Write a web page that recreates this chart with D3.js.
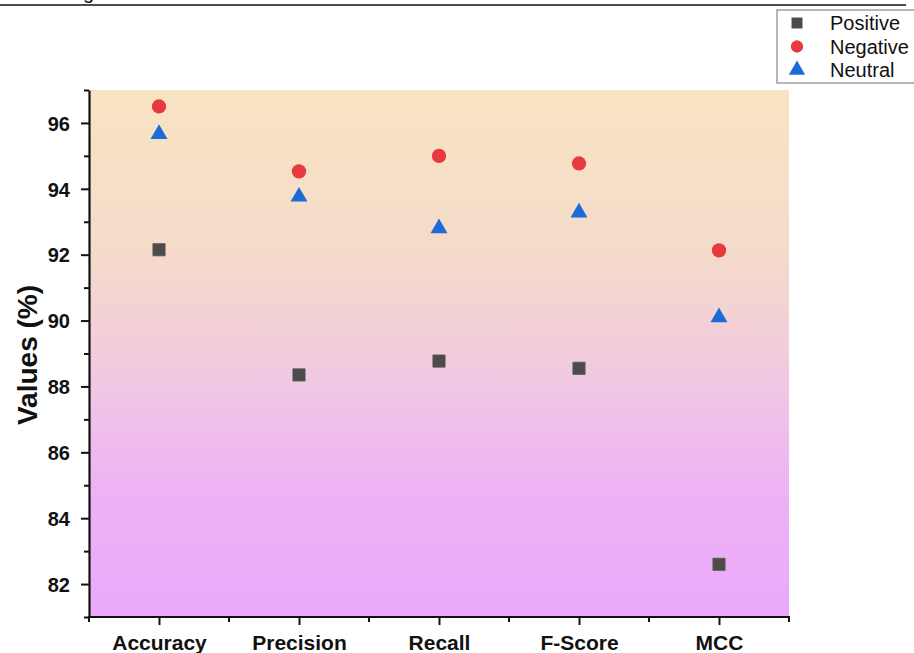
<!DOCTYPE html>
<html>
<head>
<meta charset="utf-8">
<script src="https://cdn.jsdelivr.net/npm/d3@7"></script>
<style>
  html, body { margin: 0; padding: 0; background: #fff; }
  svg { display: block; font-family: "Liberation Sans", Arial, sans-serif; }
</style>
</head>
<body>
<svg id="chart" width="914" height="653"></svg>
<script>
// ---- data ----
const categories = ["Accuracy", "Precision", "Recall", "F-Score", "MCC"];
const positiveValues = [92.15, 88.35, 88.77, 88.55, 82.6];
const negativeValues = [96.5, 94.53, 95.0, 94.77, 92.13];
const neutralValues  = [95.66, 93.76, 92.8, 93.28, 90.1];
const seriesNames = ["Positive", "Negative", "Neutral"];
const yMajorTicks = [82, 84, 86, 88, 90, 92, 94, 96];
const yMinorTicks = [81, 83, 85, 87, 89, 91, 93, 95, 97];
const yLabel = "Values (%)";

(function () {
// ---- layout ----
const svg = d3.select("#chart");
const pl = 89, pr = 789, pt = 90, pb = 617;

// top rule and clipped text remnant (as in the source image)
svg.append("line").attr("x1", 0).attr("x2", 906).attr("y1", 5).attr("y2", 5)
  .attr("stroke", "#111").attr("stroke-width", 1.5);
svg.append("text").attr("x", 83).attr("y", -1).attr("font-size", 20).attr("fill", "#111").text("g");

// gradient background
const defs = svg.append("defs");
const grad = defs.append("linearGradient").attr("id", "bg").attr("x1", 0).attr("y1", 0).attr("x2", 0).attr("y2", 1);
[[0, "#f8e4c3"], [0.3, "#f5dbca"], [0.55, "#f1c8e2"], [0.75, "#edb3f4"], [1, "#eaa9fc"]]
  .forEach(([o, c]) => grad.append("stop").attr("offset", o).attr("stop-color", c));
svg.append("rect").attr("x", pl).attr("y", pt).attr("width", pr - pl).attr("height", pb - pt)
  .attr("fill", "url(#bg)");

// scales
const x = d3.scaleBand().domain(categories).range([pl, pr]).padding(0);
const cx = c => x(c) + x.bandwidth() / 2;
const xp = d3.scalePoint().domain(categories).range([cx(categories[0]), cx(categories[categories.length - 1])]);
const y = d3.scaleLinear().domain([81, 97]).range([pb, pt]);

// y axis
const gy = svg.append("g").attr("transform", `translate(${pl},0)`);
gy.call(d3.axisLeft(y).tickValues(yMajorTicks).tickSize(8).tickSizeOuter(0).tickPadding(11).tickFormat(d3.format("d")));
const gyMinor = svg.append("g").attr("transform", `translate(${pl},0)`);
gyMinor.call(d3.axisLeft(y).tickValues(yMinorTicks).tickSize(5).tickSizeOuter(0).tickFormat(""));
gyMinor.select(".domain").remove();

// x axis
const gx = svg.append("g").attr("transform", `translate(0,${pb})`);
gx.call(d3.axisBottom(xp).tickSize(8).tickSizeOuter(0).tickPadding(10));
gx.select(".domain").remove();
const bandEdges = categories.map(c => x(c)).concat([x(categories[categories.length - 1]) + x.bandwidth()]);
const gxMinor = svg.append("g").attr("transform", `translate(0,${pb})`);
gxMinor.selectAll("line").data(bandEdges).join("line")
  .attr("x1", d => d).attr("x2", d => d).attr("y1", 0).attr("y2", 5)
  .attr("stroke", "#111").attr("stroke-width", 2);
svg.append("line").attr("x1", pl - 1).attr("x2", pr + 1).attr("y1", pb).attr("y2", pb)
  .attr("stroke", "#111").attr("stroke-width", 2.2);

[gy, gx].forEach(g => {
  g.selectAll(".domain").attr("stroke", "#111").attr("stroke-width", 2.2);
  g.selectAll(".tick line").attr("stroke", "#111").attr("stroke-width", 2);
  g.selectAll(".tick text").attr("fill", "#111").attr("font-size", 20).attr("font-weight", "bold")
    .attr("font-family", "'Liberation Sans', Arial, sans-serif");
});
gx.selectAll(".tick text").attr("font-size", 21);
gyMinor.selectAll(".tick line").attr("stroke", "#111").attr("stroke-width", 2);
gy.selectAll(".tick text").attr("dy", "0.36em");

// y label
svg.append("text")
  .attr("transform", `translate(37,355) rotate(-90)`)
  .attr("text-anchor", "middle")
  .attr("font-size", 28).attr("font-weight", "bold").attr("fill", "#111")
  .text(yLabel);

// markers
const colors = { Positive: "#4b4b4b", Negative: "#e8393e", Neutral: "#1b6cd8" };
const sym = {
  Positive: d3.symbol().type(d3.symbolSquare).size(150),
  Negative: d3.symbol().type(d3.symbolCircle).size(160),
  Neutral: d3.symbol().type(d3.symbolTriangle).size(125)
};
const seriesData = { Positive: positiveValues, Negative: negativeValues, Neutral: neutralValues };
seriesNames.forEach(name => {
  svg.append("g").selectAll("path").data(categories.map((c, i) => ({ c, v: seriesData[name][i] })))
    .join("path")
    .attr("d", sym[name]())
    .attr("transform", d => `translate(${cx(d.c)},${y(d.v)})`)
    .attr("fill", colors[name])
    .attr("stroke", name === "Positive" ? "#5a5a5a" : "none")
    .attr("stroke-width", 0.8);
});

// legend
const lg = svg.append("g").attr("transform", "translate(777,10)");
lg.append("rect").attr("x", 0).attr("y", 0).attr("width", 150).attr("height", 73)
  .attr("fill", "#fff").attr("stroke", "#888").attr("stroke-width", 1.2);
seriesNames.forEach((name, i) => {
  const yy = 13 + i * 23.5;
  lg.append("path").attr("d", sym[name].size(name === "Neutral" ? 115 : 120)())
    .attr("transform", `translate(20,${yy})`).attr("fill", colors[name]);
  lg.append("text").attr("x", 53).attr("y", yy).attr("dy", "0.36em")
    .attr("font-size", 20).attr("fill", "#111").text(name);
});
})();
</script>
</body>
</html>
